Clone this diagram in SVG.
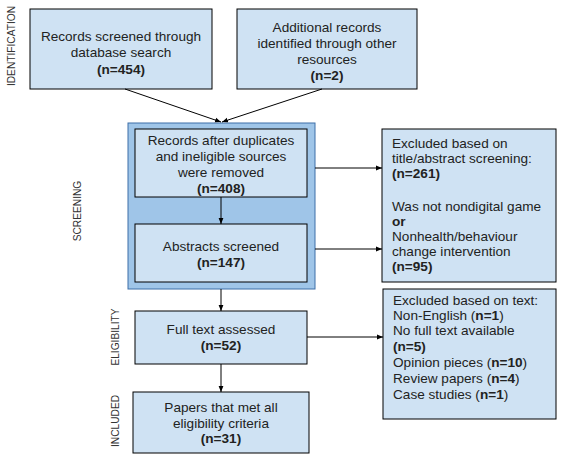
<svg xmlns="http://www.w3.org/2000/svg" width="575" height="458" viewBox="0 0 575 458">
<style>
text{font-family:"Liberation Sans",Arial,sans-serif;font-size:13.6px;fill:#222}
.c{text-anchor:middle}
.b{font-weight:bold}
.box{fill:#cfe2f3;stroke:#000;stroke-width:1}
.outer{fill:#9fc5e8;stroke:#3d6fa8;stroke-width:1}
.side{font-size:10.2px;text-anchor:middle;fill:#333}
.ln{stroke:#000;stroke-width:1;fill:none;marker-end:url(#ah)}
</style>
<defs>
<marker id="ah" viewBox="0 0 10 10" refX="10" refY="5" markerWidth="6" markerHeight="6" orient="auto" markerUnits="userSpaceOnUse">
<path d="M0,1 L10,5 L0,9 z" fill="#000"/>
</marker>
</defs>
<rect width="575" height="458" fill="#fff"/>
<g id="labels">
<text class="side" transform="translate(15,46) rotate(-90)">IDENTIFICATION</text>
<text class="side" transform="translate(81,211) rotate(-90)">SCREENING</text>
<text class="side" transform="translate(119,337) rotate(-90)">ELIGIBILITY</text>
<text class="side" transform="translate(119,421) rotate(-90)">INCLUDED</text>
</g>
<g id="screening-group"><rect class="outer" x="128" y="123" width="187" height="166"/></g>
<g id="n1"><rect class="box" x="30" y="9" width="182" height="80"/>
<text class="c" x="121" y="41">Records screened through</text>
<text class="c" x="121" y="57">database search</text>
<text class="c b" x="121" y="74">(n=454)</text></g>
<g id="n2"><rect class="box" x="237" y="9" width="180" height="80"/>
<text class="c" x="327" y="32">Additional records</text>
<text class="c" x="327" y="48">identified through other</text>
<text class="c" x="327" y="64">resources</text>
<text class="c b" x="327" y="80">(n=2)</text></g>
<g id="n3"><rect class="box" x="135" y="129" width="172" height="68"/>
<text class="c" x="221" y="145">Records after duplicates</text>
<text class="c" x="221" y="161">and ineligible sources</text>
<text class="c" x="221" y="177">were removed</text>
<text class="c b" x="221" y="193">(n=408)</text></g>
<g id="n4"><rect class="box" x="135" y="224" width="172" height="58"/>
<text class="c" x="221" y="251">Abstracts screened</text>
<text class="c b" x="221" y="267">(n=147)</text></g>
<g id="n5"><rect class="box" x="135" y="311" width="172" height="53"/>
<text class="c" x="221" y="334">Full text assessed</text>
<text class="c b" x="221" y="350">(n=52)</text></g>
<g id="n6"><rect class="box" x="133" y="392" width="176" height="61"/>
<text class="c" x="221" y="412">Papers that met all</text>
<text class="c" x="221" y="428">eligibility criteria</text>
<text class="c b" x="221" y="443">(n=31)</text></g>
<g id="n7"><rect class="box" x="382" y="129" width="174" height="153"/>
<text x="392" y="148">Excluded based on</text>
<text x="392" y="163">title/abstract screening:</text>
<text class="b" x="392" y="178">(n=261)</text>
<text x="392" y="211">Was not nondigital game</text>
<text class="b" x="392" y="226">or</text>
<text x="392" y="241">Nonhealth/behaviour</text>
<text x="392" y="256">change intervention</text>
<text class="b" x="392" y="271">(n=95)</text></g>
<g id="n8"><rect class="box" x="383" y="289" width="173" height="130"/>
<text x="393" y="305">Excluded based on text:</text>
<text x="393" y="320">Non-English (<tspan class="b">n=1</tspan>)</text>
<text x="393" y="335">No full text available</text>
<text x="393" y="351"><tspan class="b">(n=5)</tspan></text>
<text x="393" y="367">Opinion pieces (<tspan class="b">n=10</tspan>)</text>
<text x="393" y="383">Review papers (<tspan class="b">n=4</tspan>)</text>
<text x="393" y="399">Case studies (<tspan class="b">n=1</tspan>)</text></g>
<g id="connectors">
<line class="ln" x1="125" y1="89" x2="221" y2="122"/>
<line class="ln" x1="322" y1="89" x2="222" y2="122"/>
<line class="ln" x1="221" y1="197" x2="221" y2="224"/>
<line class="ln" x1="221" y1="289" x2="221" y2="311"/>
<line class="ln" x1="221" y1="364" x2="221" y2="392"/>
<line class="ln" x1="315" y1="168" x2="382" y2="168"/>
<line class="ln" x1="315" y1="249" x2="382" y2="249"/>
<line class="ln" x1="307" y1="337" x2="383" y2="337"/>
</g>
</svg>
